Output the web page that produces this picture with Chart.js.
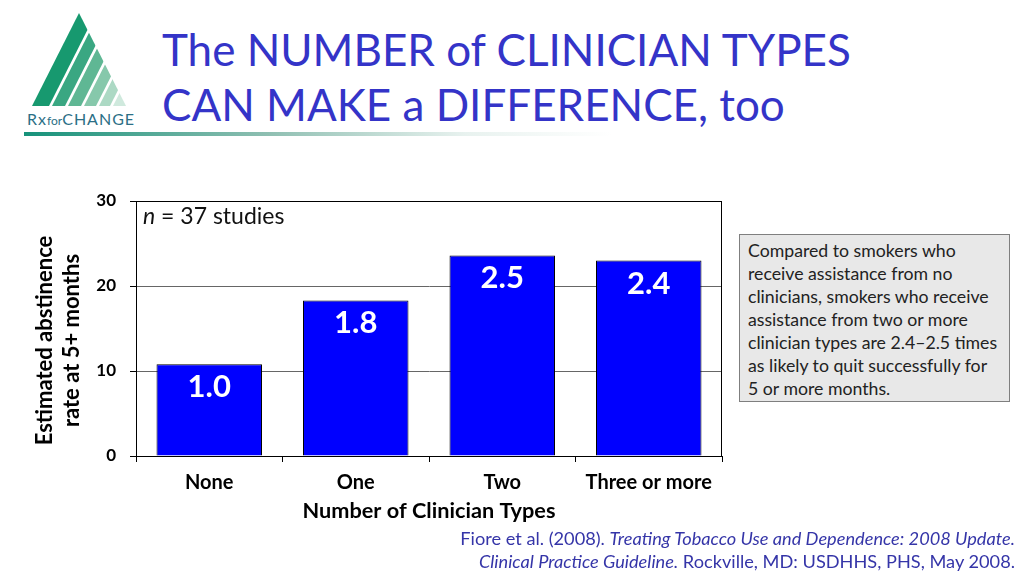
<!DOCTYPE html>
<html>
<head>
<meta charset="utf-8">
<script src="https://cdn.jsdelivr.net/npm/chart.js@4"></script>
<style>
  html,body{margin:0;padding:0;background:#fff;}
  body{width:1024px;height:576px;position:relative;overflow:hidden;font-family:Lato,"Open Sans",sans-serif;}
  #c{position:absolute;left:0;top:0;}
  .title{position:absolute;left:162px;color:#3434c8;font-size:44px;line-height:55px;white-space:nowrap;}
  .bar{position:absolute;left:24px;top:132px;width:980px;height:4px;background:linear-gradient(to right,#16927a 0%,#8fbfb2 25%,#e8f2ef 45%,#ffffff 60%);}
  .box{position:absolute;left:739px;top:234px;width:254px;height:155px;padding:4px 7px 7px 8px;background:#e8e8e8;border:1px solid #7f7f7f;font-size:17.7px;line-height:23px;color:#222;white-space:nowrap;}
  .cite{position:absolute;right:9px;top:527px;text-align:right;color:#3535a8;font-size:18.2px;line-height:23px;white-space:nowrap;}
  .n{position:absolute;left:143px;top:201px;font-size:23px;color:#111;}
  .logo{position:absolute;left:0;top:0;}
  .logotext{position:absolute;left:27px;top:109px;font-size:16px;color:#2c6f86;letter-spacing:1px;white-space:nowrap;}
  .logotext small{font-size:12px;letter-spacing:0;}
</style>
</head>
<body>
<svg class="logo" width="160" height="130">
  <defs><clipPath id="tri"><polygon points="79,13 126,106 32,106"/></clipPath></defs>
  <g clip-path="url(#tri)" id="stripes"></g>
</svg>
<div class="logotext">Rx<small>for</small>CHANGE</div>
<div class="title" style="top:22px">The NUMBER of CLINICIAN TYPES</div>
<div class="title" style="top:77px">CAN MAKE a DIFFERENCE, too</div>
<div class="bar"></div>
<canvas id="c" width="1024" height="576"></canvas>
<div class="n"><i>n</i> = 37 studies</div>
<div class="box">Compared to smokers who<br>receive assistance from no<br>clinicians, smokers who receive<br>assistance from two or more<br>clinician types are 2.4–2.5 times<br>as likely to quit successfully for<br>5 or more months.</div>
<div class="cite">Fiore et al. (2008). <i>Treating Tobacco Use and Dependence: 2008 Update.</i><br><i>Clinical Practice Guideline.</i> Rockville, MD: USDHHS, PHS, May 2008.</div>
<script>
// logo stripes (parallel to the left edge)
(function(){
  const g=document.getElementById('stripes');
  const b=[20,52,68,84,99,113,130];
  const cols=['#17996f','#3aa782','#5fb794','#86c8ab','#acd9c4','#cfe9dd'];
  for(let i=0;i<6;i++){
    const x0=b[i], x1=b[i+1]-3, k=1.3;
    const p=document.createElementNS('http://www.w3.org/2000/svg','polygon');
    p.setAttribute('points',`${x0},106 ${x1},106 ${x1+47*k},${106-93*k} ${x0+47*k},${106-93*k}`);
    p.setAttribute('fill',cols[i]);
    g.appendChild(p);
  }
})();

const categories = ['None','One','Two','Three or more'];
const abstinence = [10.8, 18.3, 23.6, 23.0];
const oddsLabels = ['1.0','1.8','2.5','2.4'];
const yMin = 0, yMax = 30, yStep = 10;
const yTitle = ['Estimated abstinence','rate at 5+ months'];
const xTitle = 'Number of Clinician Types';

const FONT = 'Lato, "Open Sans", sans-serif';

const barLabels = {
  id:'barLabels',
  afterDatasetsDraw(chart){
    const ctx=chart.ctx;
    const meta=chart.getDatasetMeta(0);
    ctx.save();
    ctx.fillStyle='#fff';
    ctx.font='bold 31px '+FONT;
    ctx.textAlign='center';
    ctx.textBaseline='middle';
    meta.data.forEach((el,i)=>{ ctx.fillText(oddsLabels[i], el.x, el.y+23); });
    ctx.restore();
  }
};
const frame = {
  id:'frame',
  afterDraw(chart){
    const a=chart.chartArea, ctx=chart.ctx;
    ctx.save(); ctx.strokeStyle='#000'; ctx.lineWidth=1;
    ctx.strokeRect(Math.round(a.left)+0.5, Math.round(a.top)+0.5, Math.round(a.right-a.left)-1, Math.round(a.bottom-a.top));
    // y axis title, two lines, rotated
    const ys=chart.scales.y;
    ctx.fillStyle='#000';
    ctx.font='bold 22px '+FONT;
    ctx.textAlign='center'; ctx.textBaseline='middle';
    const cy=(a.top+a.bottom)/2+12;
    yTitle.forEach((t,i)=>{
      ctx.save();
      ctx.translate(ys.left+25+i*27, cy);
      ctx.rotate(-Math.PI/2);
      ctx.fillText(t,0,0);
      ctx.restore();
    });
    ctx.restore();
  }
};

new Chart(document.getElementById('c'),{
  type:'bar',
  data:{labels:categories,datasets:[{data:abstinence,backgroundColor:'#0000ff',borderColor:'#000',borderWidth:1,barPercentage:0.72,categoryPercentage:1}]},
  options:{
    responsive:false,animation:false,
    layout:{padding:{left:20,top:201,right:302,bottom:40}},
    plugins:{legend:{display:false},tooltip:{enabled:false}},
    scales:{
      x:{
        afterFit(s){ s.height=80; },
        grid:{drawOnChartArea:false,drawTicks:true,tickLength:6,color:'#000',offset:true},
        border:{color:'#000'},
        ticks:{color:'#000',font:{family:FONT,size:20,weight:'bold'},padding:9},
        title:{display:true,text:xTitle,color:'#000',font:{family:FONT,size:21.7,weight:'bold',lineHeight:1.25},padding:{top:0,bottom:11.5}}
      },
      y:{
        min:yMin,max:yMax,
        afterFit(s){ s.width=116; },
        grid:{color:(c)=> (c.tick && (c.tick.value===0||c.tick.value===30)) ? '#000' : '#666',tickColor:'#000',tickLength:6},
        border:{color:'#000'},
        ticks:{stepSize:yStep,color:'#000',font:{family:FONT,size:17,weight:'bold'},padding:14},
        title:{display:false}
      }
    }
  },
  plugins:[barLabels,frame]
});
</script>
</body>
</html>
